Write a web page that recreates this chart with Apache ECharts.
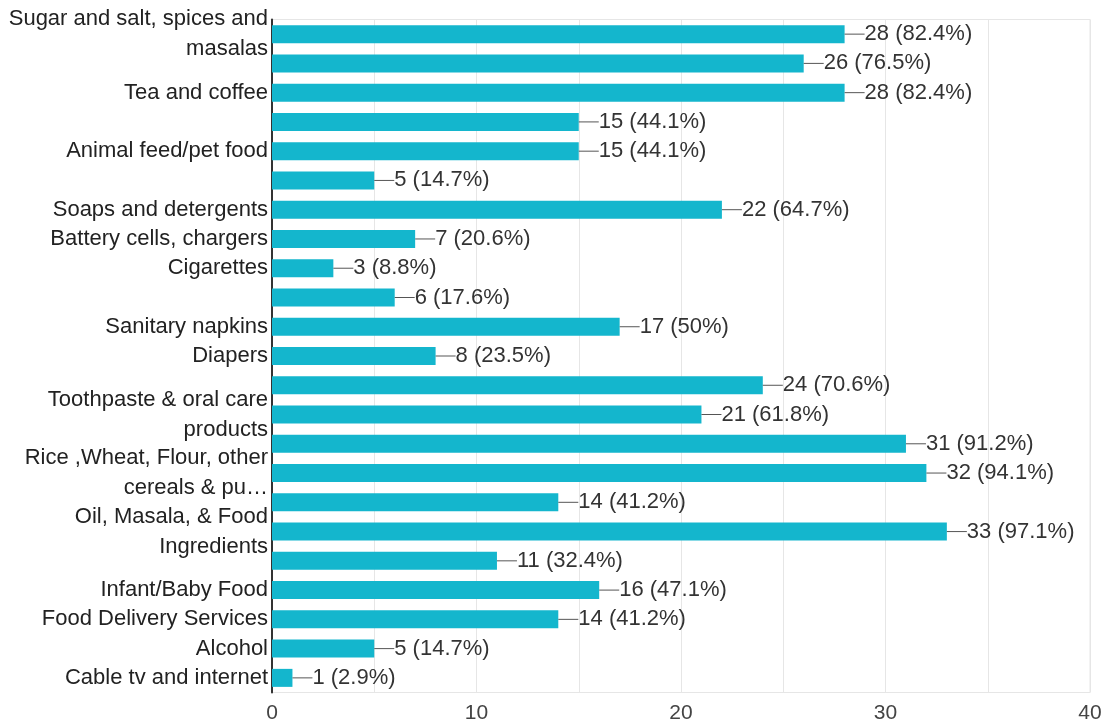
<!DOCTYPE html>
<html>
<head>
<meta charset="utf-8">
<title>Product categories</title>
<script src="https://cdn.jsdelivr.net/npm/echarts@6/dist/echarts.min.js"></script>
<style>
  html, body { margin: 0; padding: 0; background: #fff; }
  #chart { width: 1108px; height: 727px; }
</style>
</head>
<body>
<div id="chart"></div>
<script>
// Category labels (blank where the axis leaves a row unlabelled)
const categories = [
  'Sugar and salt, spices and\nmasalas',
  '',
  'Tea and coffee',
  '',
  'Animal feed/pet food',
  '',
  'Soaps and detergents',
  'Battery cells, chargers',
  'Cigarettes',
  '',
  'Sanitary napkins',
  'Diapers',
  '',
  'Toothpaste & oral care\nproducts',
  '',
  'Rice ,Wheat, Flour, other\ncereals & pu\u2026',
  '',
  'Oil, Masala, & Food\nIngredients',
  '',
  'Infant/Baby Food',
  'Food Delivery Services',
  'Alcohol',
  'Cable tv and internet'
];

// Response counts per category
const counts = [28, 26, 28, 15, 15, 5, 22, 7, 3, 6, 17, 8, 24, 21, 31, 32, 14, 33, 11, 16, 14, 5, 1];

// Share of respondents, as printed next to each bar
const percents = ['82.4%', '76.5%', '82.4%', '44.1%', '44.1%', '14.7%', '64.7%', '20.6%', '8.8%', '17.6%',
  '50%', '23.5%', '70.6%', '61.8%', '91.2%', '94.1%', '41.2%', '97.1%', '32.4%', '47.1%', '41.2%', '14.7%', '2.9%'];

// X axis range and tick labels
const xMin = 0, xMax = 40, xStep = 5;
const xTickLabels = ['0', '10', '20', '30', '40'];

const chart = echarts.init(document.getElementById('chart'), null, { renderer: 'canvas' });

const font = 'Arial, "Liberation Sans", sans-serif';

chart.setOption({
  animation: false,
  backgroundColor: '#ffffff',
  grid: {
    left: 272, right: 18, top: 19.5, bottom: 34.5,
    show: true, borderColor: '#e6e6e6', borderWidth: 1, backgroundColor: 'transparent'
  },
  xAxis: {
    type: 'value',
    min: xMin, max: xMax, interval: xStep,
    axisLine: { show: false },
    axisTick: { show: false },
    splitLine: { show: true, lineStyle: { color: '#e6e6e6', width: 1 } },
    axisLabel: {
      margin: 10,
      color: '#444',
      fontFamily: font,
      fontSize: 21,
      formatter: function (v) {
        const s = String(v);
        return xTickLabels.indexOf(s) >= 0 ? s : '';
      }
    }
  },
  yAxis: {
    type: 'category',
    inverse: true,
    data: categories,
    axisLine: { show: true, lineStyle: { color: '#333', width: 2 } },
    axisTick: { show: false },
    splitLine: { show: false },
    axisLabel: {
      interval: 0,
      margin: 4,
      color: '#222',
      fontFamily: font,
      fontSize: 22,
      lineHeight: 30,
      align: 'right'
    }
  },
  series: [{
    type: 'bar',
    data: counts,
    barWidth: 18,
    itemStyle: { color: '#14b6cd' },
    label: {
      show: true,
      position: 'right',
      distance: 0,
      fontFamily: font,
      fontSize: 22,
      color: '#333',
      formatter: function (p) {
        return '{ln|}{t|' + counts[p.dataIndex] + ' (' + percents[p.dataIndex] + ')}';
      },
      rich: {
        ln: { width: 20, height: 1, backgroundColor: '#555' },
        t: { fontFamily: font, fontSize: 22, color: '#333' }
      }
    }
  }]
});
</script>
</body>
</html>
